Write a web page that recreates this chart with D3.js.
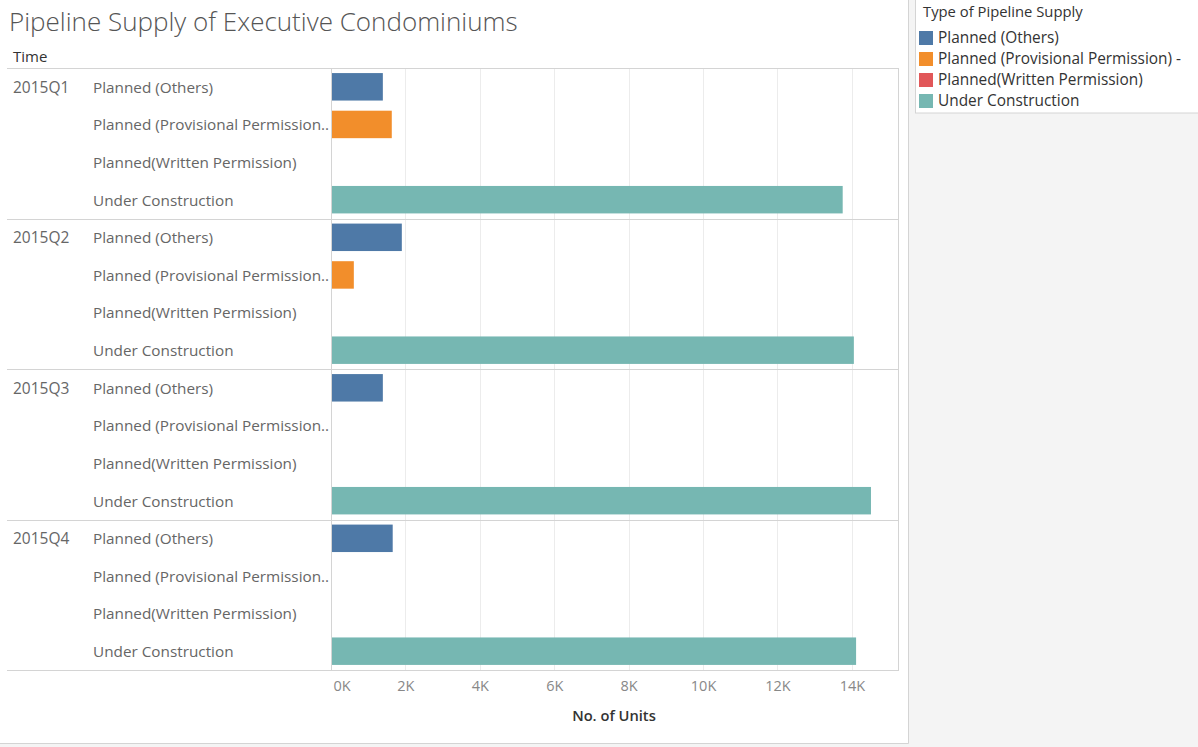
<!DOCTYPE html>
<html>
<head>
<meta charset="utf-8">
<script src="https://cdn.jsdelivr.net/npm/d3@7"></script>
<style>
  body { margin: 0; background: #f4f4f4; }
  svg { display: block; font-family: "Open Sans", sans-serif; }
</style>
</head>
<body>
<svg id="chart" width="1198" height="747"></svg>
<script>
// Quarters (row groups) and pipeline supply types (rows in each group)
const quarters = ['2015Q1', '2015Q2', '2015Q3', '2015Q4'];
const types = ['Planned (Others)', 'Planned (Provisional Permission) -', 'Planned(Written Permission)', 'Under Construction'];
const colors = ['#4e79a7', '#f28e2b', '#e15759', '#76b7b2'];

// No. of units per quarter, one array per type (null = no bar)
const plannedOthers = [1380, 1890, 1380, 1645];
const plannedProvisional = [1620, 600, null, null];
const plannedWritten = [null, null, null, null];
const underConstruction = [13740, 14040, 14500, 14100];

const tickValues = [0, 2000, 4000, 6000, 8000, 10000, 12000, 14000];

const series = [plannedOthers, plannedProvisional, plannedWritten, underConstruction];
const rows = [];
quarters.forEach((q, qi) => {
  types.forEach((t, ti) => {
    rows.push({ quarter: q, type: t, value: series[ti][qi], color: colors[ti] });
  });
});

const svg = d3.select('#chart');

// worksheet background
svg.append('rect').attr('x', 0).attr('y', 0).attr('width', 908).attr('height', 743).attr('fill', '#fff');
svg.append('line').attr('x1', 908.5).attr('x2', 908.5).attr('y1', 0).attr('y2', 743.5).attr('stroke', '#d4d4d4');
svg.append('line').attr('x1', 0).attr('x2', 908.5).attr('y1', 743.5).attr('y2', 743.5).attr('stroke', '#d4d4d4');

// Title
svg.append('text')
  .attr('x', 9).attr('y', 31)
  .style('font-size', '26px').style('font-weight', 300).style('fill', '#555')
  .text('Pipeline Supply of Executive Condominiums');

svg.append('text')
  .attr('x', 13).attr('y', 62)
  .style('font-size', '15px').style('fill', '#333')
  .text('Time');

const paneTop = 68, paneBottom = 670, paneLeft = 331, paneRight = 898;

// Scales
const xScale = d3.scaleLinear().domain([0, 15240]).range([paneLeft, paneRight]);
const yQuarter = d3.scaleBand().domain(quarters).range([paneTop, paneBottom]);
const yType = d3.scaleBand().domain(types).range([0, yQuarter.bandwidth()])
  .paddingInner(0.27).paddingOuter(0.135);

// gridlines
svg.append('g')
  .selectAll('line')
  .data(tickValues.slice(1))
  .enter()
  .append('line')
  .attr('x1', d => Math.round(xScale(d)) + 0.5)
  .attr('x2', d => Math.round(xScale(d)) + 0.5)
  .attr('y1', paneTop).attr('y2', paneBottom)
  .attr('stroke', '#ececec');

// Bars
svg.append('g')
  .selectAll('rect')
  .data(rows.filter(d => d.value != null))
  .enter()
  .append('rect')
  .attr('x', xScale(0) + 0.5)
  .attr('y', d => yQuarter(d.quarter) + yType(d.type))
  .attr('width', d => xScale(d.value) - xScale(0))
  .attr('height', yType.bandwidth())
  .attr('fill', d => d.color);

// pane separators
svg.append('g')
  .selectAll('line')
  .data(quarters)
  .enter()
  .append('line')
  .attr('x1', 7).attr('x2', paneRight + 1)
  .attr('y1', d => Math.round(yQuarter(d)) + 0.5)
  .attr('y2', d => Math.round(yQuarter(d)) + 0.5)
  .attr('stroke', '#d4d4d4');
svg.append('line').attr('x1', 7).attr('x2', paneRight + 1).attr('y1', paneBottom + 0.5).attr('y2', paneBottom + 0.5).attr('stroke', '#d4d4d4');
svg.append('line').attr('x1', paneLeft + 0.5).attr('x2', paneLeft + 0.5).attr('y1', paneTop).attr('y2', paneBottom).attr('stroke', '#d4d4d4');
svg.append('line').attr('x1', paneRight + 0.5).attr('x2', paneRight + 0.5).attr('y1', paneTop).attr('y2', paneBottom + 1).attr('stroke', '#d4d4d4');

// Quarter labels
svg.append('g')
  .selectAll('text')
  .data(quarters)
  .enter()
  .append('text')
  .attr('x', 13)
  .attr('y', d => yQuarter(d) + yType(types[0]) + yType.bandwidth() / 2)
  .attr('dy', '0.38em')
  .style('font-size', '15.5px').style('fill', '#666')
  .text(d => d);

// Type labels, truncated to fit the row header column
svg.append('g')
  .selectAll('text')
  .data(rows)
  .enter()
  .append('text')
  .attr('x', 93)
  .attr('y', d => yQuarter(d.quarter) + yType(d.type) + yType.bandwidth() / 2)
  .attr('dy', '0.38em')
  .style('font-size', '15.3px').style('fill', '#666')
  .text(d => d.type)
  .each(function(d) {
    const el = d3.select(this);
    const maxW = paneLeft - 93 + 1;
    let s = d.type;
    if (this.getComputedTextLength() > maxW) {
      while (s.length > 0) {
        s = s.slice(0, -1);
        el.text(s + '..');
        if (this.getComputedTextLength() <= maxW) break;
      }
    }
  });

// x-axis
const xAxis = svg.append('g')
  .attr('transform', `translate(0,${paneBottom})`)
  .call(d3.axisBottom(xScale).tickValues(tickValues).tickSize(0).tickPadding(11)
    .tickFormat(d => d / 1000 + 'K'));
xAxis.select('.domain').remove();
xAxis.selectAll('text')
  .style('font-size', '14.5px').style('fill', '#888').style('font-family', '"Open Sans", sans-serif');
xAxis.selectAll('.tick').filter(d => d === 0).select('text').attr('text-anchor', 'start').attr('x', 2);

svg.append('text')
  .attr('x', 614).attr('y', 721)
  .attr('text-anchor', 'middle')
  .style('font-size', '14.7px').style('font-weight', 600).style('fill', '#333')
  .text('No. of Units');

// Legend
const legend = svg.append('g');
legend.append('rect')
  .attr('x', 915.5).attr('y', -1).attr('width', 290).attr('height', 114)
  .attr('fill', '#fff').attr('stroke', '#d4d4d4');
legend.append('text')
  .attr('x', 923).attr('y', 17)
  .style('font-size', '14.8px').style('fill', '#333')
  .text('Type of Pipeline Supply');
const items = legend.selectAll('g.item')
  .data(types)
  .enter()
  .append('g')
  .attr('transform', (d, i) => `translate(919,${31 + i * 21})`);
items.append('rect')
  .attr('width', 14).attr('height', 14)
  .attr('fill', (d, i) => colors[i]);
items.append('text')
  .attr('x', 19).attr('y', 7).attr('dy', '0.35em')
  .style('font-size', '15.4px').style('fill', '#333')
  .text(d => d);
</script>
</body>
</html>
